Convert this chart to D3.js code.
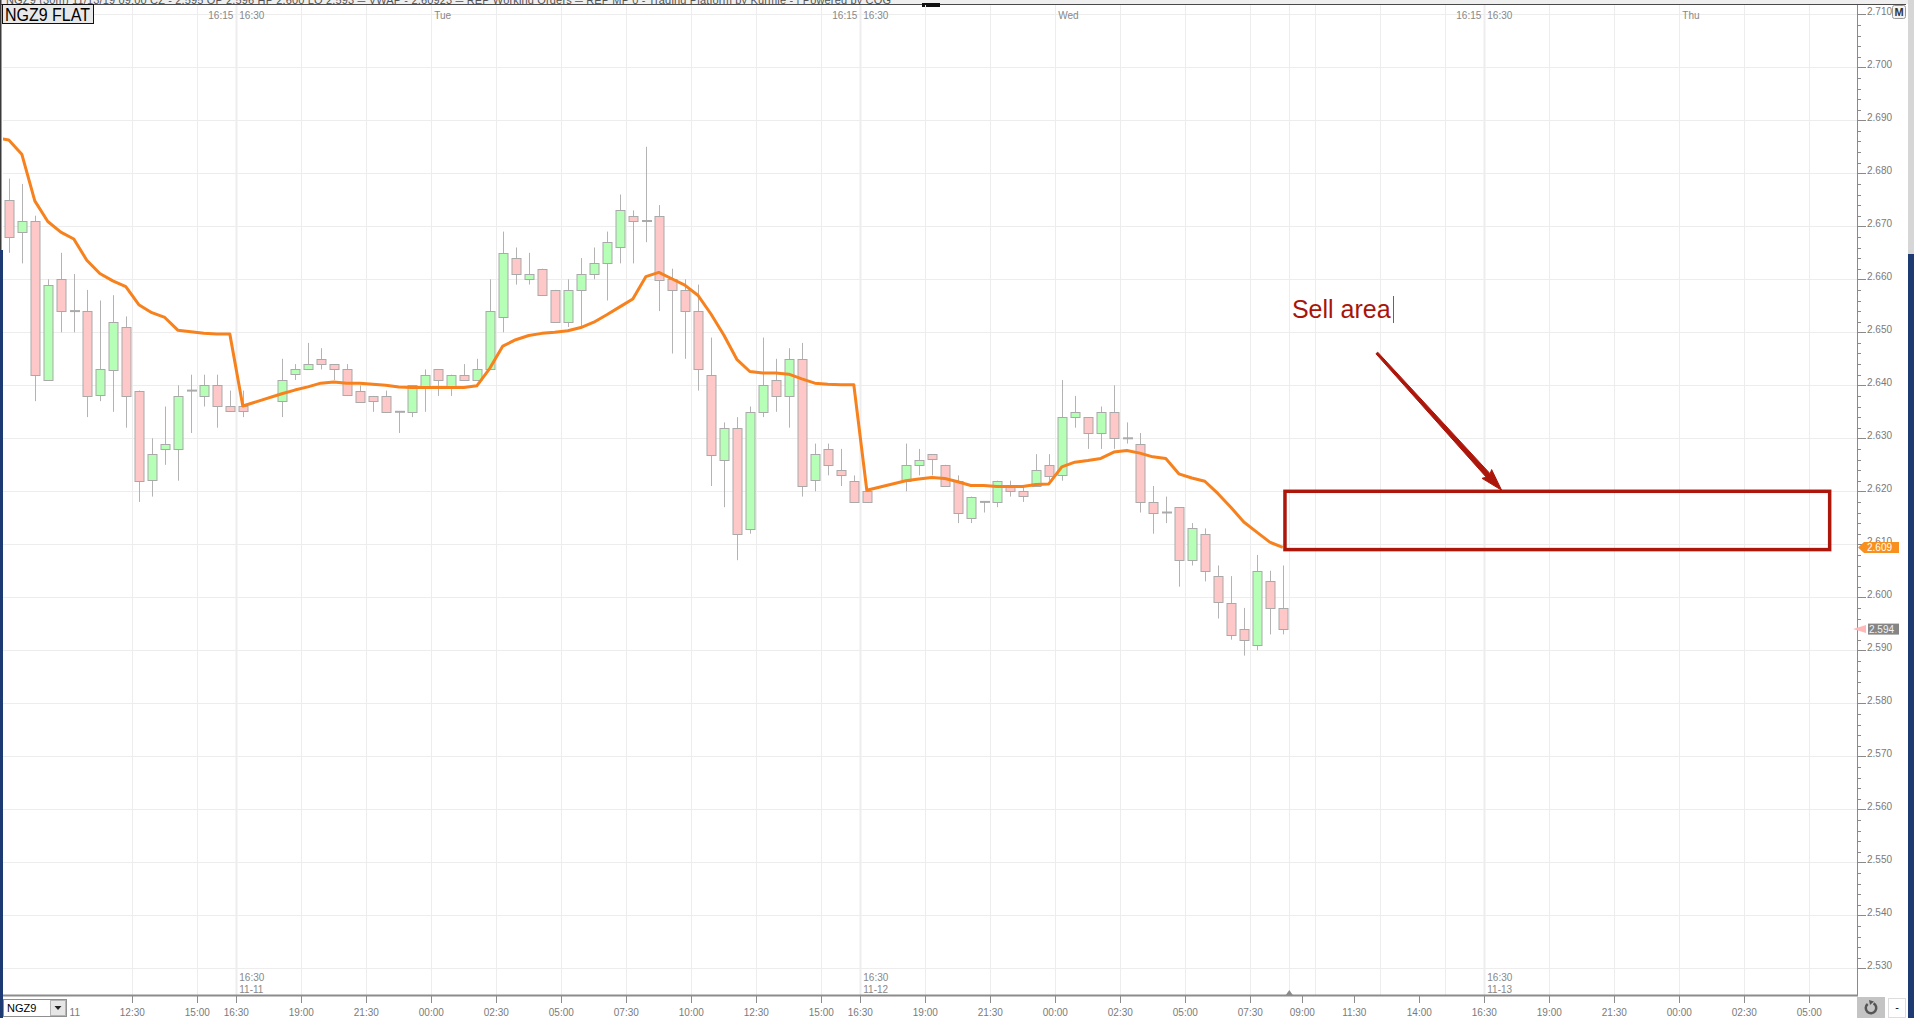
<!DOCTYPE html>
<html>
<head>
<meta charset="utf-8">
<script src="https://cdn.jsdelivr.net/npm/d3@7/dist/d3.min.js"></script>
<style>
body { margin: 0; background: #fff; overflow: hidden; }
svg { display: block; }
text { font-family: "Liberation Sans Narrow", "Liberation Sans", Arial, sans-serif; }
</style>
</head>
<body>
<script>
var width = 1914,
    height = 1018;

// 30 minute bars, NGZ9
var times = [
  "2019-11-11 07:30","2019-11-11 08:00","2019-11-11 08:30","2019-11-11 09:00","2019-11-11 09:30","2019-11-11 10:00","2019-11-11 10:30","2019-11-11 11:00","2019-11-11 11:30","2019-11-11 12:00",
  "2019-11-11 12:30","2019-11-11 13:00","2019-11-11 13:30","2019-11-11 14:00","2019-11-11 14:30","2019-11-11 15:00","2019-11-11 15:30","2019-11-11 16:00","2019-11-11 16:30",
  "2019-11-11 18:00","2019-11-11 18:30","2019-11-11 19:00","2019-11-11 19:30","2019-11-11 20:00","2019-11-11 20:30","2019-11-11 21:00","2019-11-11 21:30","2019-11-11 22:00","2019-11-11 22:30",
  "2019-11-11 23:00","2019-11-11 23:30","2019-11-12 00:00","2019-11-12 00:30","2019-11-12 01:00","2019-11-12 01:30","2019-11-12 02:00","2019-11-12 02:30","2019-11-12 03:00","2019-11-12 03:30",
  "2019-11-12 04:00","2019-11-12 04:30","2019-11-12 05:00","2019-11-12 05:30","2019-11-12 06:00","2019-11-12 06:30","2019-11-12 07:00","2019-11-12 07:30","2019-11-12 08:00","2019-11-12 08:30",
  "2019-11-12 09:00","2019-11-12 09:30","2019-11-12 10:00","2019-11-12 10:30","2019-11-12 11:00","2019-11-12 11:30","2019-11-12 12:00","2019-11-12 12:30","2019-11-12 13:00","2019-11-12 13:30",
  "2019-11-12 14:00","2019-11-12 14:30","2019-11-12 15:00","2019-11-12 15:30","2019-11-12 16:00","2019-11-12 16:30",
  "2019-11-12 18:00","2019-11-12 18:30","2019-11-12 19:00","2019-11-12 19:30","2019-11-12 20:00","2019-11-12 20:30","2019-11-12 21:00","2019-11-12 21:30","2019-11-12 22:00","2019-11-12 22:30",
  "2019-11-12 23:00","2019-11-12 23:30","2019-11-13 00:00","2019-11-13 00:30","2019-11-13 01:00","2019-11-13 01:30","2019-11-13 02:00","2019-11-13 02:30","2019-11-13 03:00","2019-11-13 03:30",
  "2019-11-13 04:00","2019-11-13 04:30","2019-11-13 05:00","2019-11-13 05:30","2019-11-13 06:00","2019-11-13 06:30","2019-11-13 07:00","2019-11-13 07:30","2019-11-13 08:00","2019-11-13 08:30"
];
var open = [
  2.675,2.669,2.671,2.641,2.660,2.654,2.654,2.638,2.643,2.651,
  2.639,2.622,2.628,2.628,2.639,2.638,2.640,2.636,2.636,
  2.637,2.642,2.643,2.645,2.644,2.643,2.639,2.638,2.638,2.635,
  2.635,2.640,2.643,2.640,2.642,2.641,2.643,2.653,2.664,2.660,
  2.662,2.658,2.652,2.658,2.661,2.663,2.666,2.672,2.671,2.672,
  2.660,2.658,2.654,2.642,2.626,2.632,2.613,2.635,2.641,2.638,
  2.645,2.622,2.628,2.624,2.622,2.620,
  2.622,2.625,2.627,2.625,2.622,2.615,2.618,2.618,2.621,2.620,
  2.621,2.625,2.623,2.634,2.634,2.631,2.635,2.630,2.629,2.618,
  2.616,2.617,2.607,2.612,2.604,2.599,2.594,2.591,2.603,2.598
];
var high = [
  2.679,2.678,2.672,2.660,2.665,2.661,2.658,2.656,2.657,2.653,
  2.639,2.630,2.636,2.640,2.642,2.642,2.642,2.639,2.639,
  2.645,2.644,2.648,2.647,2.644,2.644,2.640,2.638,2.639,2.635,
  2.640,2.643,2.643,2.642,2.644,2.645,2.660,2.669,2.666,2.665,
  2.662,2.658,2.660,2.664,2.666,2.669,2.676,2.673,2.685,2.674,
  2.662,2.660,2.659,2.649,2.633,2.634,2.636,2.649,2.645,2.647,
  2.648,2.629,2.629,2.628,2.623,2.620,
  2.629,2.628,2.627,2.625,2.623,2.619,2.618,2.622,2.622,2.621,
  2.627,2.627,2.641,2.638,2.634,2.636,2.640,2.633,2.631,2.621,
  2.619,2.617,2.614,2.613,2.606,2.604,2.598,2.608,2.605,2.606
];
var low = [
  2.665,2.663,2.637,2.641,2.650,2.650,2.634,2.637,2.635,2.632,
  2.618,2.619,2.625,2.622,2.631,2.636,2.632,2.635,2.634,
  2.634,2.641,2.643,2.643,2.641,2.638,2.637,2.635,2.635,2.631,
  2.634,2.635,2.638,2.638,2.641,2.641,2.643,2.650,2.659,2.659,
  2.657,2.652,2.651,2.651,2.660,2.656,2.663,2.663,2.667,2.654,
  2.646,2.645,2.639,2.621,2.617,2.607,2.612,2.634,2.635,2.632,
  2.619,2.620,2.623,2.621,2.618,2.618,
  2.620,2.623,2.623,2.621,2.614,2.614,2.616,2.617,2.619,2.618,
  2.621,2.622,2.622,2.632,2.628,2.628,2.628,2.629,2.616,2.612,
  2.614,2.602,2.606,2.603,2.596,2.592,2.589,2.590,2.593,2.593
];
var close = [
  2.668,2.671,2.642,2.659,2.654,2.654,2.638,2.643,2.652,2.638,
  2.622,2.627,2.629,2.638,2.639,2.640,2.636,2.635,2.635,
  2.641,2.643,2.644,2.644,2.643,2.638,2.637,2.637,2.635,2.635,
  2.640,2.642,2.641,2.642,2.641,2.643,2.654,2.665,2.661,2.661,
  2.657,2.652,2.658,2.661,2.663,2.667,2.673,2.671,2.671,2.660,
  2.658,2.654,2.643,2.627,2.632,2.612,2.635,2.640,2.638,2.645,
  2.621,2.627,2.625,2.623,2.618,2.618,
  2.625,2.626,2.626,2.621,2.616,2.619,2.618,2.622,2.620,2.619,
  2.624,2.623,2.634,2.635,2.631,2.635,2.630,2.630,2.618,2.616,
  2.616,2.607,2.613,2.605,2.599,2.593,2.592,2.605,2.598,2.594
];
var vwap = [
  2.6863,2.6836,2.6748,2.6709,2.6689,2.6676,2.6636,2.6611,2.6597,2.6586,
  2.6552,2.6537,2.6528,2.6504,2.6501,2.6498,2.6497,2.6497,2.6361,
  2.6384,2.6391,2.6397,2.6404,2.6406,2.6404,2.6404,2.6402,2.6400,2.6397,
  2.6396,2.6396,2.6396,2.6396,2.6396,2.6399,2.6432,2.6474,2.6486,2.6494,
  2.6498,2.6500,2.6503,2.6509,2.6519,2.6533,2.6548,2.6563,2.6605,2.6613,
  2.6601,2.6589,2.6570,2.6535,2.6495,2.6449,2.6426,2.6423,2.6423,2.6421,
  2.6412,2.6404,2.6402,2.6401,2.6401,2.6202,
  2.6220,2.6223,2.6226,2.6224,2.6218,2.6211,2.6211,2.6209,2.6209,2.6209,
  2.6213,2.6214,2.6246,2.6255,2.6258,2.6262,2.6274,2.6277,2.6272,2.6265,
  2.6262,2.6233,2.6225,2.6219,2.6196,2.6170,2.6142,2.6123,2.6104,2.6094
];
// vwap of the bar just left of the visible range
var vwapLeadTime = "2019-11-11 07:00";
var vwapLead = 2.6867;

var priceLabels = ["2.530","2.540","2.550","2.560","2.570","2.580","2.590","2.600","2.610","2.620",
  "2.630","2.640","2.650","2.660","2.670","2.680","2.690","2.700","2.710"];

var gridTimes = ["2019-11-11 12:30","2019-11-11 15:00","2019-11-11 16:30","2019-11-11 19:00","2019-11-11 21:30",
  "2019-11-12 00:00","2019-11-12 02:30","2019-11-12 05:00","2019-11-12 07:30","2019-11-12 10:00","2019-11-12 12:30",
  "2019-11-12 15:00","2019-11-12 16:30","2019-11-12 19:00","2019-11-12 21:30","2019-11-13 00:00","2019-11-13 02:30",
  "2019-11-13 05:00","2019-11-13 07:30","2019-11-13 09:00","2019-11-13 10:00","2019-11-13 12:30","2019-11-13 15:00",
  "2019-11-13 16:30","2019-11-13 19:00","2019-11-13 21:30","2019-11-14 00:00","2019-11-14 02:30","2019-11-14 05:00"];

var axisTickTimes = ["2019-11-11 12:30","2019-11-11 15:00","2019-11-11 16:30","2019-11-11 19:00","2019-11-11 21:30",
  "2019-11-12 00:00","2019-11-12 02:30","2019-11-12 05:00","2019-11-12 07:30","2019-11-12 10:00","2019-11-12 12:30",
  "2019-11-12 15:00","2019-11-12 16:30","2019-11-12 19:00","2019-11-12 21:30","2019-11-13 00:00","2019-11-13 02:30",
  "2019-11-13 05:00","2019-11-13 07:30","2019-11-13 09:30","2019-11-13 11:30","2019-11-13 14:00","2019-11-13 16:30",
  "2019-11-13 19:00","2019-11-13 21:30","2019-11-14 00:00","2019-11-14 02:30","2019-11-14 05:00"];
var axisTickLabels = ["12:30","15:00","16:30","19:00","21:30","00:00","02:30","05:00","07:30","10:00","12:30",
  "15:00","16:30","19:00","21:30","00:00","02:30","05:00","07:30","09:00","11:30","14:00","16:30",
  "19:00","21:30","00:00","02:30","05:00"];

var topLabelTimes = ["2019-11-11 16:30","2019-11-11 16:30","2019-11-12 00:00","2019-11-12 16:30","2019-11-12 16:30",
  "2019-11-13 00:00","2019-11-13 16:30","2019-11-13 16:30","2019-11-14 00:00"];
var topLabelTexts = ["16:15","16:30","Tue","16:15","16:30","Wed","16:15","16:30","Thu"];

var sessionTimes = ["2019-11-11 16:30","2019-11-12 16:30","2019-11-13 16:30"];
var sessionDates = ["11-11","11-12","11-13"];

var sellArea = {from: "2019-11-13 08:50", to: "2019-11-14 05:47", low: 2.609, high: 2.620};
var sellArrow = {from: "2019-11-13 12:22", fromPrice: 2.6461, to: "2019-11-13 17:10", toPrice: 2.6202};
var sellText = {text: "Sell area", at: "2019-11-13 09:06", price: 2.6527};

var titleText = "NGZ9 (30m) 11/13/19 09:00 CZ - 2.595 OP 2.596 HP 2.600 LO 2.593  \u2550 VWAP - 2.60923  \u2550 REP Working Orders  \u2550 REP MP 0 - Trading Platform by Kurmie -  | Powered by CQG";

var parse = d3.timeParse("%Y-%m-%d %H:%M");
var halfBar = 15 * 60000;

var x = d3.scaleTime()
    .domain([parse("2019-11-12 00:00"), parse("2019-11-13 00:00")])
    .range([431.3, 1055.3]);
var y = d3.scaleLinear()
    .domain([2.53, 2.71])
    .range([968.3, 14.3]);

var plotLeft = 3, plotRight = 1857, plotTop = 5, plotBottom = 995;

function barX(t) { return x(new Date(t.getTime() + halfBar)); }

var candles = times.map(function (s, i) {
    var t = parse(s);
    return {t: t, cx: barX(t), o: open[i], h: high[i], l: low[i], c: close[i], v: vwap[i]};
});
var vwapPoints = [{cx: barX(parse(vwapLeadTime)), v: vwapLead}].concat(candles);

var svg = d3.select("body").append("svg")
    .attr("width", width)
    .attr("height", height);

svg.append("defs").append("clipPath").attr("id", "plot")
  .append("rect")
    .attr("x", plotLeft).attr("y", plotTop)
    .attr("width", plotRight - plotLeft).attr("height", plotBottom - plotTop);
svg.select("defs").append("clipPath").attr("id", "title")
  .append("rect").attr("x", 0).attr("y", 0).attr("width", width).attr("height", 4);

svg.append("rect").attr("width", width).attr("height", height).attr("fill", "#fff");

// title bar, cut off at the top of the window
svg.append("rect").attr("width", width).attr("height", 4).attr("fill", "#efefef");
svg.append("text")
    .attr("clip-path", "url(#title)")
    .attr("x", 6).attr("y", 4)
    .attr("textLength", 885)
    .style("font-family", "'Liberation Sans', Arial, sans-serif")
    .style("font-size", "11px")
    .attr("fill", "#555")
    .text(titleText);
svg.append("line").attr("x1", 0).attr("x2", 1906).attr("y1", 4.5).attr("y2", 4.5)
    .attr("stroke", "#4a4a4a").attr("stroke-width", 1);
svg.append("rect").attr("x", 922).attr("y", 3).attr("width", 18).attr("height", 4).attr("fill", "#111");

// grid
var grid = svg.append("g").attr("clip-path", "url(#plot)");
grid.selectAll(".hgrid").data(priceLabels).enter().append("line")
    .attr("x1", plotLeft).attr("x2", plotRight)
    .attr("y1", function (d) { return Math.round(y(+d)) + 0.5; })
    .attr("y2", function (d) { return Math.round(y(+d)) + 0.5; })
    .attr("stroke", "#ededed");
grid.selectAll(".vgrid").data(gridTimes).enter().append("line")
    .attr("x1", function (d) { return Math.round(x(parse(d))) + 0.5; })
    .attr("x2", function (d) { return Math.round(x(parse(d))) + 0.5; })
    .attr("y1", plotTop).attr("y2", plotBottom)
    .attr("stroke", "#ededed")
    .attr("stroke-width", function (d) { return d.slice(11) == "16:30" ? 2 : 1; });

// session labels at the bottom of the plot
var sess = svg.append("g").selectAll("g").data(sessionTimes).enter().append("g");
sess.append("text")
    .attr("x", function (d) { return x(parse(d)) + 3; })
    .attr("y", 981)
    .attr("fill", "#888").style("font-size", "10px")
    .text("16:30");
sess.append("text")
    .attr("x", function (d) { return x(parse(d)) + 3; })
    .attr("y", 993)
    .attr("fill", "#888").style("font-size", "10px")
    .text(function (d, i) { return sessionDates[i]; });

// labels along the top
svg.append("g").selectAll("text").data(topLabelTimes).enter().append("text")
    .attr("x", function (d, i) { return topLabelTexts[i] == "16:15" ? x(parse(d)) - 3 : x(parse(d)) + 3; })
    .attr("y", 19)
    .attr("text-anchor", function (d, i) { return topLabelTexts[i] == "16:15" ? "end" : "start"; })
    .attr("fill", "#888").style("font-size", "10px")
    .text(function (d, i) { return topLabelTexts[i]; });

// candles
var cg = svg.append("g").attr("clip-path", "url(#plot)");
cg.selectAll(".wick").data(candles).enter().append("line")
    .attr("x1", function (d) { return Math.round(d.cx) + 0.5; })
    .attr("x2", function (d) { return Math.round(d.cx) + 0.5; })
    .attr("y1", function (d) { return y(d.h); })
    .attr("y2", function (d) { return y(d.l); })
    .attr("stroke", "#b3b3b3");
cg.selectAll(".body").data(candles.filter(function (d) { return d.o != d.c; })).enter().append("rect")
    .attr("x", function (d) { return Math.round(d.cx) - 4; })
    .attr("y", function (d) { return Math.round(y(Math.max(d.o, d.c))) + 0.5; })
    .attr("width", 9)
    .attr("height", function (d) { return Math.max(2, Math.round(y(Math.min(d.o, d.c)) - y(Math.max(d.o, d.c)))); })
    .attr("fill", function (d) { return d.c > d.o ? "#b6ffb6" : "#ffc8c8"; })
    .attr("stroke", "#a9a9a9");
cg.selectAll(".doji").data(candles.filter(function (d) { return d.o == d.c; })).enter().append("line")
    .attr("x1", function (d) { return Math.round(d.cx) - 4; })
    .attr("x2", function (d) { return Math.round(d.cx) + 6; })
    .attr("y1", function (d) { return y(d.o); })
    .attr("y2", function (d) { return y(d.o); })
    .attr("stroke", "#aaa").attr("stroke-width", 2);

// vwap
var vline = d3.line()
    .x(function (d) { return d.cx; })
    .y(function (d) { return y(d.v); });
cg.append("path")
    .datum(vwapPoints)
    .attr("d", vline)
    .attr("fill", "none")
    .attr("stroke", "#f7811c")
    .attr("stroke-width", 3)
    .attr("stroke-linejoin", "round");

// sell area drawing
var red = "#ad170b";
var sa = svg.append("g").attr("clip-path", "url(#plot)");
sa.append("rect")
    .attr("x", x(parse(sellArea.from)))
    .attr("y", y(sellArea.high))
    .attr("width", x(parse(sellArea.to)) - x(parse(sellArea.from)))
    .attr("height", y(sellArea.low) - y(sellArea.high))
    .attr("fill", "none")
    .attr("stroke", red)
    .attr("stroke-width", 3.5);

var ax0 = x(parse(sellArrow.from)), ay0 = y(sellArrow.fromPrice),
    ax1 = x(parse(sellArrow.to)), ay1 = y(sellArrow.toPrice);
var len = Math.sqrt((ax1 - ax0) * (ax1 - ax0) + (ay1 - ay0) * (ay1 - ay0));
var ux = (ax1 - ax0) / len, uy = (ay1 - ay0) / len, nx = -uy, ny = ux;
var hb = 20;
var arrowPts = [
    [ax0 + nx * 1.2, ay0 + ny * 1.2],
    [ax1 - ux * hb + nx * 2.6, ay1 - uy * hb + ny * 2.6],
    [ax1 - ux * (hb + 2) + nx * 6.5, ay1 - uy * (hb + 2) + ny * 6.5],
    [ax1, ay1],
    [ax1 - ux * (hb + 2) - nx * 6.5, ay1 - uy * (hb + 2) - ny * 6.5],
    [ax1 - ux * hb - nx * 2.6, ay1 - uy * hb - ny * 2.6],
    [ax0 - nx * 1.2, ay0 - ny * 1.2]
];
sa.append("path")
    .attr("d", "M" + arrowPts.join("L") + "Z")
    .attr("fill", red)
    .attr("stroke", red)
    .attr("stroke-width", 1)
    .attr("stroke-linejoin", "round");

var st = sa.append("text")
    .attr("x", x(parse(sellText.at)))
    .attr("y", y(sellText.price))
    .style("font-family", "'Liberation Sans', Arial, sans-serif")
    .style("font-size", "25px")
    .attr("fill", "#a8140a")
    .text(sellText.text);
var stEnd = x(parse(sellText.at)) + st.node().getComputedTextLength() + 2;
sa.append("line")
    .attr("x1", Math.round(stEnd) + 0.5).attr("x2", Math.round(stEnd) + 0.5)
    .attr("y1", y(sellText.price) - 22).attr("y2", y(sellText.price) + 5)
    .attr("stroke", "#666");

// price axis on the right
svg.append("line").attr("x1", plotRight + 0.5).attr("x2", plotRight + 0.5)
    .attr("y1", plotTop).attr("y2", plotBottom)
    .attr("stroke", "#8a8a8a");
var minor = d3.range(0, 91).map(function (i) { return 2.53 + i * 0.002; });
svg.append("g").selectAll("line").data(minor).enter().append("line")
    .attr("x1", plotRight).attr("x2", plotRight + 4)
    .attr("y1", function (d) { return Math.round(y(d)) + 0.5; })
    .attr("y2", function (d) { return Math.round(y(d)) + 0.5; })
    .attr("stroke", "#8a8a8a");
svg.append("g").selectAll("line").data(priceLabels).enter().append("line")
    .attr("x1", plotRight).attr("x2", plotRight + 9)
    .attr("y1", function (d) { return Math.round(y(+d)) + 0.5; })
    .attr("y2", function (d) { return Math.round(y(+d)) + 0.5; })
    .attr("stroke", "#8a8a8a");
svg.append("g").selectAll("text").data(priceLabels).enter().append("text")
    .attr("x", plotRight + 10)
    .attr("y", function (d) { return y(+d) + 1; })
    .attr("fill", "#7a7a7a").style("font-size", "10px")
    .text(function (d) { return d; });

// current price markers
var lastV = vwap[vwap.length - 1], lastC = close[close.length - 1];
var vy = y(lastV);
svg.append("path")
    .attr("d", "M" + (plotRight + 1) + "," + vy + "L" + (plotRight + 7) + "," + (vy - 5.5) + "L1899," + (vy - 5.5) + "L1899," + (vy + 5.5) + "L" + (plotRight + 7) + "," + (vy + 5.5) + "Z")
    .attr("fill", "#f7901e");
svg.append("text").attr("x", plotRight + 10).attr("y", vy + 4)
    .attr("fill", "#fff").style("font-size", "10px")
    .text(lastV.toFixed(3));
var cy = y(lastC);
svg.append("path")
    .attr("d", "M" + (plotRight - 4) + "," + cy + "L" + (plotRight + 9) + "," + (cy - 4) + "L" + (plotRight + 9) + "," + (cy + 4) + "Z")
    .attr("fill", "#ffb9b9");
svg.append("rect").attr("x", plotRight + 11).attr("y", cy - 5.5).attr("width", 31).attr("height", 11)
    .attr("fill", "#858585");
svg.append("text").attr("x", plotRight + 12).attr("y", cy + 4)
    .attr("fill", "#f2f2f2").style("font-size", "10px")
    .text(lastC.toFixed(3));

// M button
svg.append("rect").attr("x", 1892.5).attr("y", 5.5).attr("width", 13).attr("height", 13)
    .attr("fill", "#f4f4f4").attr("stroke", "#999").attr("rx", 2);
svg.append("text").attr("x", 1899).attr("y", 16).attr("text-anchor", "middle")
    .style("font-size", "11px").style("font-weight", "bold").attr("fill", "#333").text("M");

// time axis
svg.append("line").attr("x1", plotLeft).attr("x2", plotRight + 1)
    .attr("y1", plotBottom + 0.5).attr("y2", plotBottom + 0.5)
    .attr("stroke", "#8c8c8c").attr("stroke-width", 2);
svg.append("g").selectAll("line").data(axisTickTimes).enter().append("line")
    .attr("x1", function (d) { return Math.round(x(parse(d))) + 0.5; })
    .attr("x2", function (d) { return Math.round(x(parse(d))) + 0.5; })
    .attr("y1", plotBottom + 1).attr("y2", plotBottom + 8)
    .attr("stroke", "#8c8c8c");
svg.append("g").selectAll("text").data(axisTickTimes).enter().append("text")
    .attr("x", function (d) { return x(parse(d)); })
    .attr("y", 1016)
    .attr("text-anchor", "middle")
    .attr("fill", "#7a7a7a").style("font-size", "10px")
    .text(function (d, i) { return axisTickLabels[i]; });
svg.append("text").attr("x", 80).attr("y", 1016).attr("text-anchor", "end")
    .attr("fill", "#7a7a7a").style("font-size", "10px").text("11");

// now marker
var nowX = x(parse("2019-11-13 09:00"));
svg.append("path")
    .attr("d", "M" + (nowX - 3.5) + "," + plotBottom + "L" + nowX + "," + (plotBottom - 5) + "L" + (nowX + 3.5) + "," + plotBottom + "Z")
    .attr("fill", "#8c8c8c");

// NGZ9 FLAT box
svg.append("rect").attr("x", 2.5).attr("y", 4.5).attr("width", 91).attr("height", 19)
    .attr("fill", "#e8e8e8").attr("stroke", "#111");
svg.append("text").attr("x", 5).attr("y", 20.5)
    .attr("textLength", 85).attr("lengthAdjust", "spacingAndGlyphs")
    .style("font-size", "18px").attr("fill", "#000").text("NGZ9 FLAT");

// symbol combo at the bottom left
svg.append("rect").attr("x", 3.5).attr("y", 999.5).attr("width", 63).attr("height", 17)
    .attr("fill", "#fff").attr("stroke", "#8f8f8f");
svg.append("rect").attr("x", 50.5).attr("y", 1000.5).attr("width", 15).attr("height", 15)
    .attr("fill", "#e6e6e6").attr("stroke", "#b5b5b5");
svg.append("text").attr("x", 7).attr("y", 1012).style("font-size", "11px").attr("fill", "#000").text("NGZ9");
svg.append("path").attr("d", "M54.5,1006L61.5,1006L58,1010Z").attr("fill", "#222");

// refresh button and minus box at the bottom right
svg.append("rect").attr("x", plotRight).attr("y", 997).attr("width", 28).attr("height", 21).attr("fill", "#c4c4c4");
svg.append("path")
    .attr("d", d3.arc()({innerRadius: 4, outerRadius: 6.5, startAngle: 0.5, endAngle: 5.6}))
    .attr("transform", "translate(" + (plotRight + 14) + ",1008)")
    .attr("fill", "#555");
svg.append("path")
    .attr("d", "M" + (plotRight + 12) + ",1000L" + (plotRight + 17) + ",1001.5L" + (plotRight + 13) + ",1005Z")
    .attr("fill", "#555");
svg.append("rect").attr("x", 1888.5).attr("y", 998.5).attr("width", 17).attr("height", 19)
    .attr("fill", "#fff").attr("stroke", "#ddd");
svg.append("text").attr("x", 1897).attr("y", 1011).attr("text-anchor", "middle")
    .style("font-size", "11px").attr("fill", "#000").text("-");

// window borders
svg.append("rect").attr("x", 0).attr("y", 0).attr("width", 1.5).attr("height", 250).attr("fill", "#3a3a3a");
svg.append("rect").attr("x", 0).attr("y", 250).attr("width", 3).attr("height", height - 250).attr("fill", "#1d3b72");
svg.append("rect").attr("x", 1908).attr("y", 0).attr("width", 6).attr("height", 254).attr("fill", "#d6d6d6");
svg.append("rect").attr("x", 1908).attr("y", 254).attr("width", 6).attr("height", height - 254).attr("fill", "#1d3b72");
</script>
</body>
</html>
